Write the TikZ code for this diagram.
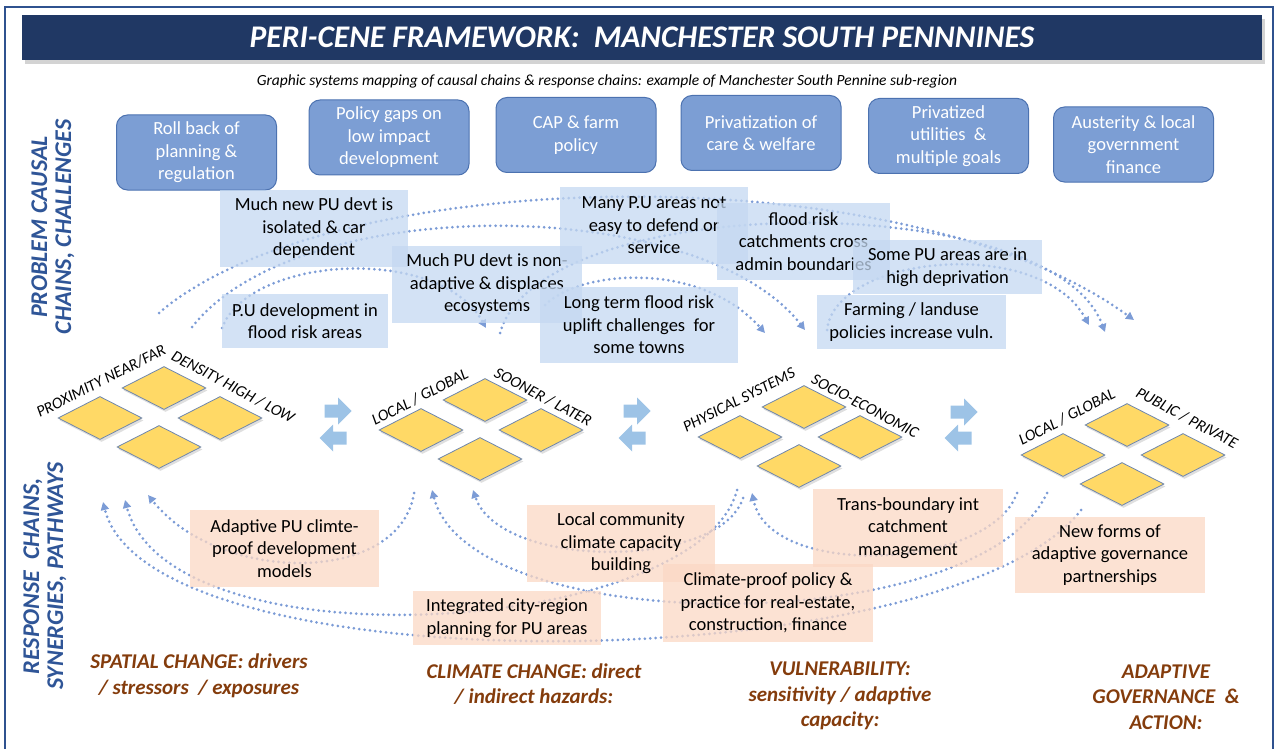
\documentclass[tikz,border=0pt]{standalone}
\usepackage{fontspec}
\setmainfont{Carlito}
\usetikzlibrary{positioning,calc,shapes.geometric,shadows,arrows.meta}
\definecolor{colorBN}{HTML}{203864}
\definecolor{colorFR}{HTML}{2F528F}
\definecolor{colorCA}{HTML}{7C9ED4}
\definecolor{colorCL}{HTML}{4C72B0}
\definecolor{colorPB}{HTML}{C4D8F1}
\definecolor{colorRS}{HTML}{FBD8C4}
\definecolor{colorTI}{HTML}{FFD966}
\definecolor{colorTL}{HTML}{6F87AD}
\definecolor{colorFL}{HTML}{9DC3E6}
\definecolor{colorCH}{HTML}{7C9CD6}
\definecolor{colorSD}{HTML}{2F5597}
\definecolor{colorHD}{HTML}{843C0C}
\tikzset{
   every path/.style={>={Triangle[width=8pt,length=8pt]}},
   banner/.style={rectangle,fill=colorBN,text=white,minimum width=1240pt,minimum height=45pt,
      font=\fontsize{31.5}{33}\selectfont\bfseries\itshape,
      drop shadow={shadow xshift=3pt,shadow yshift=-4pt,opacity=0.35}},
   note/.style={font=\fontsize{15.5}{17}\selectfont\itshape,inner sep=0pt},
   cause/.style={rectangle,rounded corners=11pt,draw=colorCL,fill=colorCA,line width=1pt,text=white,
      align=center,minimum width=160pt,minimum height=75pt,inner sep=0pt,
      font=\fontsize{18.5}{22.5}\selectfont},
   prob/.style={rectangle,fill=colorPB,fill opacity=0.75,text opacity=1,align=center,inner sep=0pt,
      font=\fontsize{18.5}{22.5}\selectfont},
   resp/.style={prob,fill=colorRS},
   tile/.style={diamond,draw=colorTL,fill=colorTI,line width=0.8pt,minimum width=84pt,
      minimum height=43pt,inner sep=0pt,
      drop shadow={shadow xshift=1.5pt,shadow yshift=-2.5pt,opacity=0.25}},
   axis/.style={font=\fontsize{16}{17}\selectfont\itshape,inner sep=0pt},
   side/.style={rotate=90,align=center,text=colorSD,inner sep=0pt,
      font=\fontsize{24}{24}\selectfont\bfseries\itshape},
   head/.style={align=center,text=colorHD,inner sep=0pt,
      font=\fontsize{21}{25.5}\selectfont\bfseries\itshape},
   chain/.style={->,color=colorCH,line width=3pt,line cap=round,dash pattern=on 0pt off 5.4pt},
   flow/.pic={\fill[colorFL] (-13.5,-6.5) -- (0,-6.5) -- (0,-13.5) -- (13.5,0) -- (0,13.5)
      -- (0,6.5) -- (-13.5,6.5) -- cycle;},
}

\begin{document}
\begin{tikzpicture}[x=1pt,y=-1pt]
      \useasboundingbox (0,0) rectangle (1280,749);
      \draw[colorFR,line width=2pt] (5,7) rectangle (1273,780);

      \node[banner] (ttl) at (642,37.5)
        {PERI-CENE FRAMEWORK:~~MANCHESTER SOUTH PENNNINES};
      \node[note] (sub) at (607,81)
        {Graphic systems mapping of causal chains \& response chains: example of Manchester South Pennine sub-region};

      % causes
      \node[cause] (rbk) at (196.5,152.5) {Roll back of\\planning \&\\regulation};
      \node[cause] (gap) at (389,137.5) {Policy gaps on\\low impact\\development};
      \node[cause] (cap) at (576,135) {CAP \& farm\\policy};
      \node[cause] (prv) at (761,133) {Privatization of\\care \& welfare};
      \node[cause] (utl) at (948.5,136) {Privatized\\utilities~ \&\\multiple goals};
      \node[cause] (aus) at (1133.5,144.5) {Austerity \& local\\government\\finance};

      \node[side] (pbl) at (53,227) {PROBLEM CAUSAL\\CHAINS, CHALLENGES};
      \node[side] (rsl) at (45,576) {RESPONSE~~CHAINS,\\SYNERGIES, PATHWAYS};

      % problem chains
      \coordinate (p1s) at (159,313);
      \coordinate (p1e) at (1134,320);
      \coordinate (p2s) at (192,327);
      \coordinate (p2e) at (805,330);
      \coordinate (p3s) at (222,328);
      \coordinate (p3e) at (486,328);
      \coordinate (p4s) at (500,333);
      \coordinate (p4e) at (1105,332);
      \coordinate (p5s) at (545,305);
      \coordinate (p5e) at (765,333);
      \coordinate (p6s) at (827,330);
      \coordinate (p6e) at (1089,325);
      \draw[chain] (p1s) .. controls (330,165) and (900,150) .. (p1e);
      \draw[chain] (p2s) .. controls (300,190) and (700,195) .. (p2e);
      \draw[chain] (p3s) .. controls (250,255) and (440,245) .. (p3e);
      \draw[chain] (p4s) .. controls (540,190) and (1050,185) .. (p4e);
      \draw[chain] (p5s) .. controls (580,270) and (700,260) .. (p5e);
      \draw[chain] (p6s) .. controls (835,255) and (1040,235) .. (p6e);

      % response chains
      \coordinate (r1s) at (414,493);
      \coordinate (r1e) at (148,495);
      \coordinate (r2s) at (737,490);
      \coordinate (r2e) at (125,500);
      \coordinate (r3s) at (743,498);
      \coordinate (r3e) at (473,490);
      \coordinate (r4s) at (1047,493);
      \coordinate (r4e) at (432,490);
      \coordinate (r5s) at (1081,510);
      \coordinate (r5e) at (103,502);
      \coordinate (r6s) at (1017,493);
      \coordinate (r6e) at (752,493);
      \draw[chain] (r1s) .. controls (400,585) and (220,585) .. (r1e);
      \draw[chain] (r2s) .. controls (700,635) and (170,670) .. (r2e);
      \draw[chain] (r3s) .. controls (720,570) and (500,570) .. (r3e);
      \draw[chain] (r4s) .. controls (980,640) and (470,640) .. (r4e);
      \draw[chain] (r5s) .. controls (950,680) and (150,690) .. (r5e);
      \draw[chain] (r6s) .. controls (990,570) and (770,580) .. (r6e);

      % problems
      \node[prob,minimum width=188pt,minimum height=77pt] (iso) at (314,228.5)
        {Much new PU devt is\\isolated \& car\\dependent};
      \node[prob,minimum width=166pt,minimum height=54pt] (flr) at (305,321)
        {P.U development in\\flood risk areas};
      \node[prob,minimum width=190pt,minimum height=77pt] (nad) at (487,284.5)
        {Much PU devt is non-\\adaptive \& displaces\\ecosystems};
      \node[prob,minimum width=188pt,minimum height=77pt] (def) at (654,225.5)
        {Many P.U areas not\\easy to defend or\\service};
      \node[prob,minimum width=173pt,minimum height=77pt] (cat) at (803.5,241.5)
        {flood risk\\catchments cross\\admin boundaries};
      \node[prob,minimum width=189pt,minimum height=54pt] (dep) at (947.5,267)
        {Some PU areas are in\\high deprivation};
      \node[prob,minimum width=198pt,minimum height=76pt] (upl) at (639,325)
        {Long term flood risk\\uplift challenges~ for\\some towns};
      \node[prob,minimum width=189pt,minimum height=54pt] (frm) at (911.5,322)
        {Farming / landuse\\policies increase vuln.};

      % responses
      \node[resp,minimum width=189pt,minimum height=77pt] (adp) at (284.5,548.5)
        {Adaptive PU climte-\\proof development\\models};
      \node[resp,minimum width=188pt,minimum height=77pt] (lcc) at (621,543.5)
        {Local community\\climate capacity\\building};
      \node[resp,minimum width=188pt,minimum height=54pt] (icr) at (507,618)
        {Integrated city-region\\planning for PU areas};
      \node[resp,minimum width=190pt,minimum height=78pt] (tbc) at (908,528)
        {Trans-boundary int\\catchment\\management};
      \node[resp,minimum width=210pt,minimum height=78pt] (cpp) at (768,603)
        {Climate-proof policy \&\\practice for real-estate,\\construction, finance};
      \node[resp,minimum width=190pt,minimum height=76pt] (nfg) at (1110,555)
        {New forms of\\adaptive governance\\partnerships};

      % spatial change tiles
      \node[tile] (st) at (164,388) {};
      \node[tile] (sl) at ($(st)+(-64,30)$) {};
      \node[tile] (sr) at ($(st)+(56,30)$) {};
      \node[tile] (sb) at ($(st)+(-5,59)$) {};
      \node[axis,rotate=27] (sx) at ($(st)+(-63,-7)$) {PROXIMITY NEAR/FAR};
      \node[axis,rotate=-28] (sy) at ($(st)+(69,-1)$) {DENSITY HIGH / LOW};

      % climate change tiles
      \node[tile] (kt) at (485,400) {};
      \node[tile] (kl) at ($(kt)+(-64,30)$) {};
      \node[tile] (kr) at ($(kt)+(56,30)$) {};
      \node[tile] (kb) at ($(kt)+(-5,59)$) {};
      \node[axis,rotate=27] (kx) at ($(kt)+(-65,-3)$) {LOCAL / GLOBAL};
      \node[axis,rotate=-28] (ky) at ($(kt)+(58,-3)$) {SOONER / LATER};

      % vulnerability tiles
      \node[tile] (vt) at (804,407) {};
      \node[tile] (vl) at ($(vt)+(-64,30)$) {};
      \node[tile] (vr) at ($(vt)+(56,30)$) {};
      \node[tile] (vb) at ($(vt)+(-5,59)$) {};
      \node[axis,rotate=27] (vx) at ($(vt)+(-65,-7)$) {PHYSICAL SYSTEMS};
      \node[axis,rotate=-28] (vy) at ($(vt)+(61,-1)$) {SOCIO-ECONOMIC};

      % governance tiles
      \node[tile] (gt) at (1127,425) {};
      \node[tile] (gl) at ($(gt)+(-64,30)$) {};
      \node[tile] (gr) at ($(gt)+(56,30)$) {};
      \node[tile] (gb) at ($(gt)+(-5,59)$) {};
      \node[axis,rotate=27] (gx) at ($(gt)+(-60,-8)$) {LOCAL / GLOBAL};
      \node[axis,rotate=-28] (gy) at ($(gt)+(60,-7)$) {PUBLIC / PRIVATE};

      % flows between stages
      \pic (fa) at (338,411) {flow};
      \pic[rotate=180] (fb) at (333,438) {flow};
      \pic (fc) at (637,411) {flow};
      \pic[rotate=180] (fd) at (632,438) {flow};
      \pic (fe) at (964,412) {flow};
      \pic[rotate=180] (ff) at (958,438) {flow};

      \node[head] (spt) at (199,676) {SPATIAL CHANGE: drivers\\/ stressors~ / exposures};
      \node[head] (clm) at (534,684) {CLIMATE CHANGE: direct\\/ indirect hazards:};
      \node[head] (vln) at (840,696) {VULNERABILITY:\\sensitivity / adaptive\\capacity:};
      \node[head] (gov) at (1166,697) {ADAPTIVE\\GOVERNANCE~~\&\\ACTION:};
\end{tikzpicture}
\end{document}
